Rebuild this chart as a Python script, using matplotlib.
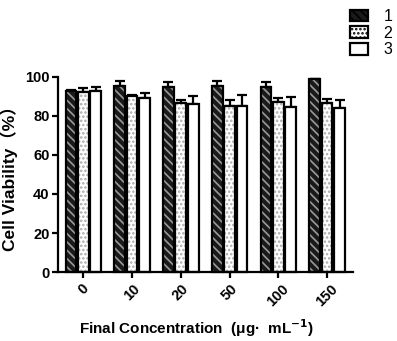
import matplotlib
matplotlib.use("Agg")
import matplotlib.pyplot as plt
import matplotlib.patches as mpatches
import numpy as np

plt.rcParams['font.family'] = ['Liberation Sans', 'Noto Sans CJK SC', 'DejaVu Sans']
plt.rcParams['hatch.linewidth'] = 1.2

concentrations = ['0', '10', '20', '50', '100', '150']
series_names = ['1', '2', '3']
means_1 = [93.0, 95.4, 95.0, 95.4, 94.7, 99.0]
errs_1 = [0.5, 2.6, 2.3, 2.6, 2.9, 0.0]
means_2 = [92.5, 90.0, 86.5, 85.3, 87.0, 86.8]
errs_2 = [2.0, 0.8, 1.7, 2.7, 2.0, 1.9]
means_3 = [93.0, 89.4, 86.0, 85.3, 84.8, 84.0]
errs_3 = [2.0, 2.6, 4.3, 5.5, 5.1, 4.0]

fig = plt.figure(figsize=(3.97, 3.41), dpi=100)
ax = fig.add_axes([0.146, 0.2023, 0.743, 0.572])

x = np.arange(len(concentrations))
w = 0.22
step = 0.255

styles = [
    dict(fc='#1a1a1a', hc='#9a9a9a', hatch='\\\\\\\\'),
    dict(fc='white', hc='#aaaaaa', hatch='....'),
    dict(fc='white', hc='white', hatch=None),
]
all_means = [means_1, means_2, means_3]
all_errs = [errs_1, errs_2, errs_3]

for i, (m, e, st) in enumerate(zip(all_means, all_errs, styles)):
    pos = x + (i - 1) * step
    ax.errorbar(pos, m, yerr=[np.zeros(len(e)), e], fmt='none', ecolor='black',
                elinewidth=1.6, capsize=3.5, capthick=1.6, zorder=1, clip_on=False)
    ax.bar(pos, m, width=w, color=st['fc'], edgecolor=st['hc'], hatch=st['hatch'],
           linewidth=0, zorder=2, clip_on=False)
    ax.bar(pos, m, width=w, fill=False, edgecolor='black', linewidth=1.6, zorder=3,
           clip_on=False)

ax.set_xlim(-0.52, 5.53)
ax.set_ylim(0, 100)
ax.set_yticks([0, 20, 40, 60, 80, 100])
ax.set_xticks(x)
ax.set_xticklabels(concentrations, rotation=45, fontsize=10.5, fontweight='bold')
for lab in ax.get_yticklabels():
    lab.set_fontsize(10.5)
    lab.set_fontweight('bold')
ax.spines['top'].set_visible(False)
ax.spines['right'].set_visible(False)
ax.spines['left'].set_linewidth(1.6)
ax.spines['bottom'].set_linewidth(1.6)
ax.tick_params(axis='both', width=1.6, length=4, direction='out')
ax.tick_params(axis='x', pad=3)
ax.tick_params(axis='y', pad=2)

ax.set_ylabel('Cell Viability（%）', fontsize=12.5, fontweight='bold')
ax.yaxis.set_label_coords(-0.135, 0.50)
ax.set_xlabel(r'Final Concentration  (μg·  mL$^{\mathbf{-1}}$)', fontsize=11,
              fontweight='bold')
ax.xaxis.set_label_coords(0.47, -0.23)

handles = []
for st, name in zip(styles, series_names):
    handles.append(mpatches.Patch(facecolor=st['fc'], edgecolor='black', hatch=st['hatch'],
                                  linewidth=1.6, label=name))
leg = fig.legend(handles=handles, loc='upper left', bbox_to_anchor=(0.854, 1.006),
                 frameon=False, fontsize=11.5, handlelength=1.13, handleheight=0.75,
                 labelspacing=0.1, handletextpad=0.95, borderaxespad=0.3)

fig.savefig('out.png', dpi=100)
